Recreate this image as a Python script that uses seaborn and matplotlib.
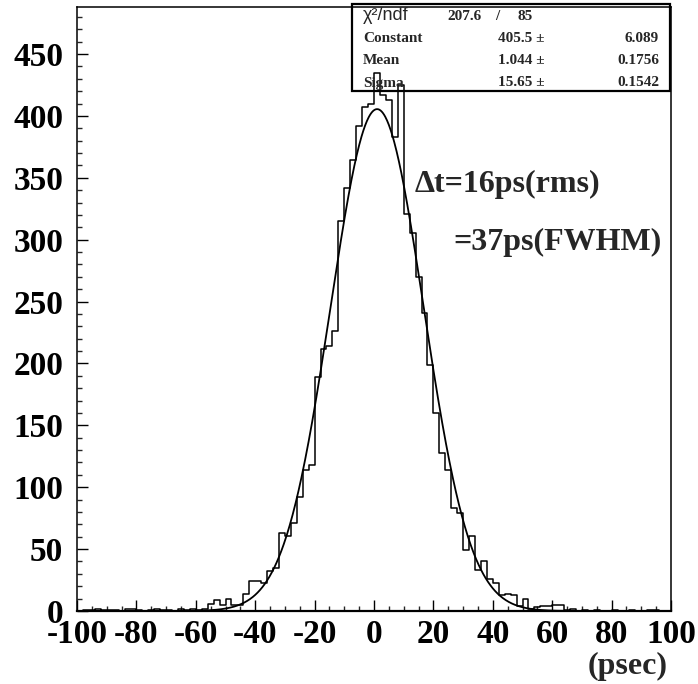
import numpy as np
import pandas as pd
import matplotlib
matplotlib.use("Agg")
import matplotlib.pyplot as plt
from matplotlib.ticker import MultipleLocator
from matplotlib.patches import Rectangle
import seaborn as sns

# ---------------- data ----------------
bin_width = 2
x_low, x_high = -100, 100
# counts per 2 ps bin, from -100 to +100
counts = [
    0, 1, 1, 2, 1, 1, 1, 0, 2, 2,            # -100 .. -82
    1, 0, 1, 2, 1, 1, 0, 2, 1, 2,            # -80 .. -62
    1, 2, 6, 9, 5,                           # -60 .. -52
    10, 5, 5, 14, 24, 24, 23, 32, 35, 63,    # -50 .. -32
    61, 71, 92, 114, 118, 189, 212, 214, 226, 315,  # -30 .. -12
    342, 364, 392, 407, 410,                 # -10 .. -2
    435, 417, 413, 383, 425, 321, 305, 270, 241, 199,  # 0 .. 18
    160, 128, 114, 83, 79, 49, 61, 33, 40, 26,         # 20 .. 38
    23, 13, 14, 13, 4,                       # 40 .. 48
    10, 2, 3, 4, 4, 5, 5, 1, 2, 0,           # 50 .. 68
    1, 0, 1, 0, 0, 1, 0, 0, 1, 0,            # 70 .. 88
    0, 1, 1, 0, 0,                           # 90 .. 98
]
bin_centers = np.arange(x_low + bin_width / 2, x_high, bin_width)

fit_constant = 405.5
fit_mean = 1.044
fit_sigma = 15.65

stats_labels = ["Constant", "Mean", "Sigma"]
stats_values = ["405.5", "1.044", "15.65"]
stats_errors = ["6.089", "0.1756", "0.1542"]
chi2_text = "207.6"
ndf_text = "85"

x_ticks = [-100, -80, -60, -40, -20, 0, 20, 40, 60, 80, 100]
y_ticks = [0, 50, 100, 150, 200, 250, 300, 350, 400, 450]

df = pd.DataFrame({"t": bin_centers, "n": counts})
xs = np.linspace(x_low, x_high, 1001)
fit_df = pd.DataFrame({"t": xs,
                       "f": fit_constant * np.exp(-0.5 * ((xs - fit_mean) / fit_sigma) ** 2)})

# ---------------- style ----------------
sns.set_style("ticks")
plt.rcParams["font.family"] = ["Liberation Serif", "DejaVu Serif"]
plt.rcParams["font.weight"] = "bold"

W, H = 698, 684
fig = plt.figure(figsize=(W / 100, H / 100), dpi=100)
ax = fig.add_axes([77 / W, 1 - 611 / H, (671 - 77) / W, (611 - 7) / H])

sns.histplot(data=df, x="t", weights="n", bins=len(counts), binrange=(x_low, x_high),
             element="step", fill=False, color="black", linewidth=1.1, ax=ax, zorder=3)
sns.lineplot(data=fit_df, x="t", y="f", color="black", linewidth=1.3, ax=ax, zorder=4)

ax.set_xlim(x_low, x_high)
ax.set_ylim(0, 488)
ax.set_xlabel("")
ax.set_ylabel("")
ax.set_xticks(x_ticks)
ax.set_yticks(y_ticks)
ax.set_xticklabels([str(v) for v in x_ticks])
ax.set_yticklabels([str(v) for v in y_ticks])
ax.xaxis.set_minor_locator(MultipleLocator(5))
ax.yaxis.set_minor_locator(MultipleLocator(10))
ax.tick_params(axis="both", which="major", direction="in", length=8, width=1.0,
               labelsize=24, colors="black", top=False, right=False)
ax.tick_params(axis="both", which="minor", direction="in", length=3.6, width=1.0,
               top=False, right=False)
ax.tick_params(axis="x", which="major", pad=6)
ax.tick_params(axis="y", which="major", pad=10)
for lbl in ax.get_xticklabels() + ax.get_yticklabels():
    lbl.set_fontweight("bold")
for s in ax.spines.values():
    s.set_visible(True)
    s.set_color("black")
    s.set_linewidth(1.1)
ax.spines["bottom"].set_linewidth(1.6)

def fx(px):
    return px / W

def fy(py):
    return 1 - py / H

# annotation texts
fig.text(fx(415), fy(184), "\u0394t=16ps(rms)", fontsize=23, fontweight="bold",
         ha="left", va="center")
fig.text(fx(453), fy(242), "=37ps(FWHM)", fontsize=23, fontweight="bold",
         ha="left", va="center")
fig.text(fx(668), fy(666), "(psec)", fontsize=23, fontweight="bold",
         ha="right", va="center")

# stats box
box = Rectangle((fx(352), fy(91)), fx(670) - fx(352), fy(4) - fy(91),
                transform=fig.transFigure, fill=False, edgecolor="black",
                linewidth=1.6, zorder=1)
fig.patches.append(box)

row_y = [16, 39, 61, 83]
fig.text(fx(363), fy(row_y[0]), "\u03c7\u00b2/ndf", fontsize=13,
         family=["Liberation Sans", "DejaVu Sans"], fontweight="normal",
         ha="left", va="center")
fig.text(fx(447), fy(row_y[0]), chi2_text, fontsize=11, fontweight="bold",
         ha="left", va="center")
fig.text(fx(495), fy(row_y[0]), "/", fontsize=11, fontweight="bold",
         ha="left", va="center")
fig.text(fx(517), fy(row_y[0]), ndf_text, fontsize=11, fontweight="bold",
         ha="left", va="center")
for i, (lab, val, err) in enumerate(zip(stats_labels, stats_values, stats_errors)):
    yy = fy(row_y[i + 1])
    fig.text(fx(363), yy, lab, fontsize=11, fontweight="bold", ha="left", va="center")
    fig.text(fx(498), yy, val + " \u00b1", fontsize=11, fontweight="bold",
             ha="left", va="center")
    fig.text(fx(659), yy, err, fontsize=11, fontweight="bold", ha="right", va="center")

fig.savefig("out.png", dpi=100)
